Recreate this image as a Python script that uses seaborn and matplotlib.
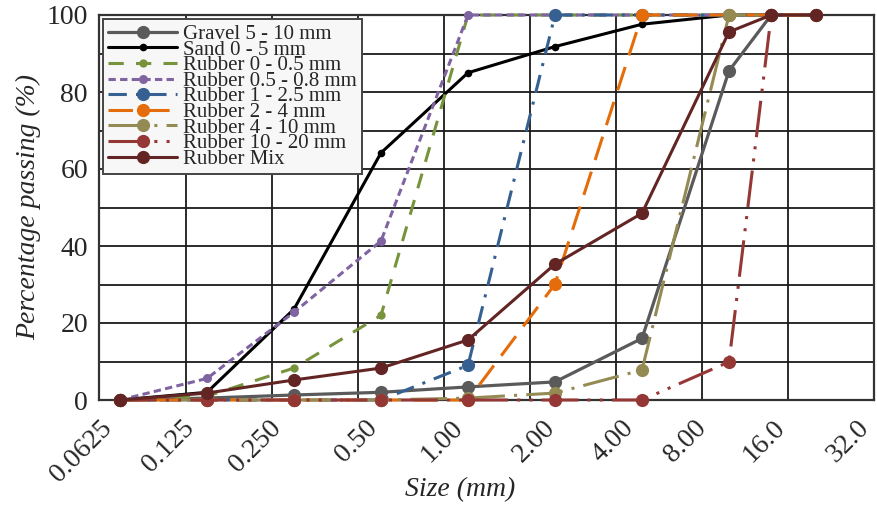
import numpy as np
import pandas as pd
import matplotlib
matplotlib.use("Agg")
import matplotlib.pyplot as plt
import seaborn as sns

# ---- data ----
sizes = [0.0625, 0.125, 0.25, 0.5, 1.0, 2.0, 4.0, 8.0, 11.2, 16.0]
gravel = [0, 0.5, 1.3, 2.0, 3.4, 4.7, 16.0, 85.5, 100, None]
sand = [0, 2.0, 23.6, 64.2, 85.0, 91.8, 97.6, 100, 100, 100]
rub_0_05 = [0, 1.0, 8.3, 22.0, 100, 100, 100, 100, 100, 100]
rub_05_08 = [0, 5.6, 22.8, 41.3, 100, 100, 100, 100, 100, 100]
rub_1_25 = [0, 0, 0, 0, 9.0, 100, 100, 100, 100, 100]
rub_2_4 = [0, 0, 0, 0, 0, 30.1, 100, 100, 100, 100]
rub_4_10 = [0, 0, 0, 0, 0.5, 1.8, 7.8, 100, 100, None]
rub_10_20 = [0, 0, 0, 0, 0, 0, 0, 9.9, 100, None]
rub_mix = [0, 1.8, 5.2, 8.3, 15.6, 35.3, 48.5, 95.6, 100, 100]

labels = ["Gravel 5 - 10 mm", "Sand 0 - 5 mm", "Rubber 0 - 0.5 mm",
          "Rubber 0.5 - 0.8 mm", "Rubber 1 - 2.5 mm", "Rubber 2 - 4 mm",
          "Rubber 4 - 10 mm", "Rubber 10 - 20 mm", "Rubber Mix"]
tick_labels = ["0.0625", "0.125", "0.250", "0.50", "1.00", "2.00", "4.00",
               "8.00", "16.0", "32.0"]

series = [gravel, sand, rub_0_05, rub_05_08, rub_1_25, rub_2_4, rub_4_10,
          rub_10_20, rub_mix]

# ---- styles ----
colors = ["#5a5a5a", "#000000", "#77933C", "#8064A2", "#376092", "#E46C0A",
          "#948A54", "#953735", "#632523"]
linestyles = ["-", "-", (0, (5, 4)), (0, (2.4, 1.4)), (0, (6, 3, 1, 3)),
              (0, (8, 4)), (0, (12, 3, 1, 3)), (0, (12, 3, 1, 3, 1, 3)), "-"]
msizes = [9.5, 5.5, 6.0, 6.5, 9.5, 9.5, 9.5, 9.5, 9.5]
lws = [2.3, 2.2, 2.2, 2.2, 2.2, 2.2, 2.2, 2.2, 2.2]

sns.set_style("white")
plt.rcParams["font.family"] = ["Liberation Serif", "DejaVu Serif"]
plt.rcParams["mathtext.fontset"] = "stix"

fig = plt.figure(figsize=(8.77, 5.14), dpi=100)
ax = fig.add_axes([99 / 877, 1 - 400 / 514, 775 / 877, 385 / 514])
ax.set_xscale("log", base=2)

for vals, lab, c, ls, ms, lw in zip(series, labels, colors, linestyles, msizes, lws):
    df = pd.DataFrame({"size": sizes, "pct": vals}).dropna()
    sns.lineplot(data=df, x="size", y="pct", ax=ax, color=c, label=lab,
                 marker="o", markersize=ms, markeredgewidth=0,
                 markeredgecolor=c, linewidth=lw, linestyle=ls,
                 clip_on=False, zorder=3)

# axis mapping: 0.0625 at px 120, 87 px per doubling
def px_to_x(px):
    return 0.0625 * 2 ** ((px - 120) / 87.0)

ax.set_xlim(px_to_x(99), px_to_x(874))
ax.set_ylim(0, 100)

tick_px = [117, 199, 286, 382, 468, 560, 639, 711, 790, 874]
ax.set_xticks([px_to_x(p) for p in tick_px])
ax.set_xticklabels(tick_labels, rotation=45, ha="right", fontsize=20)
grid_px = [185.5, 271.5, 357.5, 443.5, 530, 616, 702, 788]
ax.set_xticks([px_to_x(p) for p in grid_px], minor=True)
ax.xaxis.set_minor_formatter(matplotlib.ticker.NullFormatter())
ax.set_yticks([0, 20, 40, 60, 80, 100])
ax.set_yticks([10, 30, 50, 70, 90], minor=True)
ax.tick_params(axis="both", which="both", length=0)
ax.tick_params(axis="x", which="major", pad=11)
ax.tick_params(axis="y", which="major", pad=8, labelsize=20)

ax.grid(False)
ax.grid(True, axis="x", which="minor", color="#1a1a1a", linewidth=1.3)
ax.grid(True, axis="y", which="both", color="#1a1a1a", linewidth=1.3)
ax.set_axisbelow(True)
for sp in ax.spines.values():
    sp.set_color("#333333")
    sp.set_linewidth(1.6)

ax.set_xlabel("Size (mm)", fontsize=20, style="italic")
ax.xaxis.set_label_coords(0.466, -0.2)
ax.set_ylabel("Percentage passing (%)", fontsize=20, style="italic", labelpad=4)

leg = ax.legend(loc="upper left", fontsize=15, frameon=True, fancybox=False,
                framealpha=1, facecolor="#f7f7f7", edgecolor="#444444",
                borderaxespad=0.2, borderpad=0.25, labelspacing=-0.19,
                handlelength=3.3, handletextpad=0.3, numpoints=1)
leg.get_frame().set_linewidth(1.4)
leg.set_zorder(5)

fig.savefig("out.png", dpi=100)
